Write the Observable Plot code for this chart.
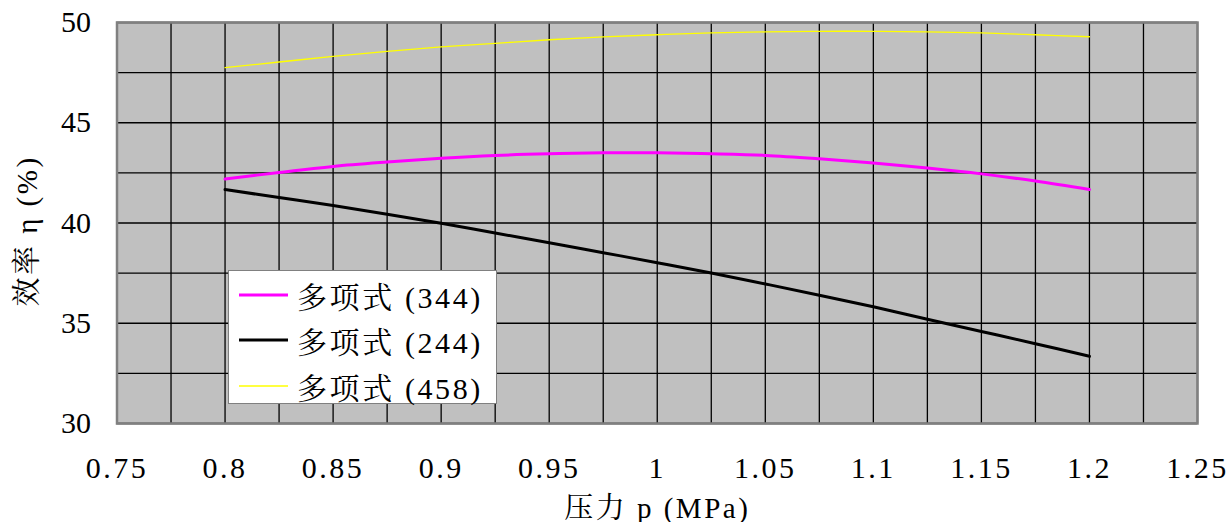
<!DOCTYPE html>
<html>
<head>
<meta charset="utf-8">
<script src="https://cdn.jsdelivr.net/npm/d3@7"></script>
<script src="https://cdn.jsdelivr.net/npm/@observablehq/plot@0.6"></script>
<style>
  html, body { margin: 0; padding: 0; background: white; }
  #wrap { position: relative; width: 1232px; height: 522px; font-family: "Liberation Serif", "Noto Serif CJK SC", serif; }
  #legend { position: absolute; left: 228px; top: 270px; width: 267px; height: 132px; background: white; border: 1px solid #808080; }
  .row { position: absolute; left: 0; height: 40px; display: flex; align-items: center; }
  .row svg { margin-left: 10px; margin-right: 9px; }
  .row span { font-size: 30px; color: #000; white-space: pre; letter-spacing: 2.6px; font-family: "Liberation Serif", "Noto Serif CJK SC", serif !important; }
  #wrap svg, #wrap svg text, #wrap svg g { font-family: "Liberation Serif", "Noto Serif CJK SC", serif !important; }
  #wrap g[aria-label^="x-axis"] text { letter-spacing: 2.5px; }
</style>
</head>
<body>
<div id="wrap"></div>
<script>
// Pressure p (MPa)
const pressure = [0.8, 0.825, 0.85, 0.875, 0.9, 0.925, 0.95, 0.975, 1.0, 1.025, 1.05, 1.075, 1.1, 1.125, 1.15, 1.175, 1.2];
// Efficiency η (%) for each polynomial fit
const eff344 = [42.19, 42.52, 42.82, 43.04, 43.23, 43.37, 43.45, 43.50, 43.50, 43.45, 43.37, 43.20, 42.99, 42.74, 42.45, 42.09, 41.67];
const eff244 = [41.67, 41.27, 40.87, 40.44, 39.99, 39.50, 39.02, 38.52, 38.02, 37.51, 36.96, 36.40, 35.82, 35.20, 34.59, 33.98, 33.35];
const eff458 = [47.75, 48.03, 48.31, 48.56, 48.78, 48.96, 49.14, 49.28, 49.39, 49.48, 49.53, 49.56, 49.56, 49.53, 49.48, 49.39, 49.29];

const seriesNames = ["多项式 (344)", "多项式 (244)", "多项式 (458)"];
const seriesColors = ["#FF00FF", "#000000", "#FFFF00"];
const seriesWidths = [3, 3, 1.3];

const xTicks = [0.75, 0.8, 0.85, 0.9, 0.95, 1.0, 1.05, 1.1, 1.15, 1.2, 1.25];
const xTickLabels = ["0.75", "0.8", "0.85", "0.9", "0.95", "1", "1.05", "1.1", "1.15", "1.2", "1.25"];
const yTicks = [30, 35, 40, 45, 50];
const xGrid = d3.range(0, 21).map(i => 0.75 + i * 0.025);
const yGrid = d3.range(0, 9).map(i => 30 + i * 2.5);

const xTitle = "压力 p (MPa)";
const yTitle = "效率 η (%)";

const seriesValues = [eff344, eff244, eff458];
const rows = [];
seriesValues.forEach((vals, s) => vals.forEach((v, i) => rows.push({p: pressure[i], eff: v, series: seriesNames[s]})));

const chart = Plot.plot({
  width: 1232,
  height: 522,
  marginLeft: 116.5,
  marginRight: 35,
  marginTop: 22,
  marginBottom: 99,
  style: { fontSize: "30px", color: "#000", background: "white", overflow: "visible" },
  x: { domain: [0.75, 1.25], ticks: xTicks, tickFormat: (d) => xTickLabels[xTicks.indexOf(d)], tickSize: 0, tickPadding: 33, label: null },
  y: { domain: [30, 50], ticks: yTicks, tickSize: 0, tickPadding: 26, label: null },
  marks: [
    Plot.frame({ fill: "#C0C0C0" }),
    Plot.ruleX(xGrid, { stroke: "#000", strokeWidth: 1.3 }),
    Plot.ruleY(yGrid, { stroke: "#000", strokeWidth: 1.3 }),
    ...seriesNames.map((name, s) =>
      Plot.line(rows.filter(r => r.series === name), { x: "p", y: "eff", stroke: seriesColors[s], strokeWidth: seriesWidths[s], curve: "catmull-rom" })
    ),
    Plot.frame({ stroke: "#808080", strokeWidth: 2.5 }),
    Plot.text([xTitle], { frameAnchor: "bottom", textAnchor: "middle", dy: 94, fontSize: 29, fill: "#000" }),
    Plot.text([yTitle], { frameAnchor: "left", textAnchor: "middle", lineAnchor: "middle", dx: -89, dy: 8, rotate: -90, fontSize: 29, fill: "#000" })
  ]
});

const wrap = document.getElementById("wrap");
wrap.appendChild(chart);
// space the axis titles like the reference
chart.querySelectorAll("text").forEach(t => {
  if (t.textContent === xTitle || t.textContent === yTitle) t.style.letterSpacing = "2.5px";
});

// Legend overlay inside plot area
const legend = document.createElement("div");
legend.id = "legend";
const rowTops = [4, 49, 95];
seriesNames.forEach((name, s) => {
  const row = document.createElement("div");
  row.className = "row";
  row.style.top = rowTops[s] + "px";
  row.innerHTML = `<svg width="49" height="10"><line x1="0" x2="49" y1="5" y2="5" stroke="${seriesColors[s]}" stroke-width="${seriesWidths[s]}"/></svg><span>${name}</span>`;
  legend.appendChild(row);
});
wrap.appendChild(legend);
</script>
</body>
</html>
